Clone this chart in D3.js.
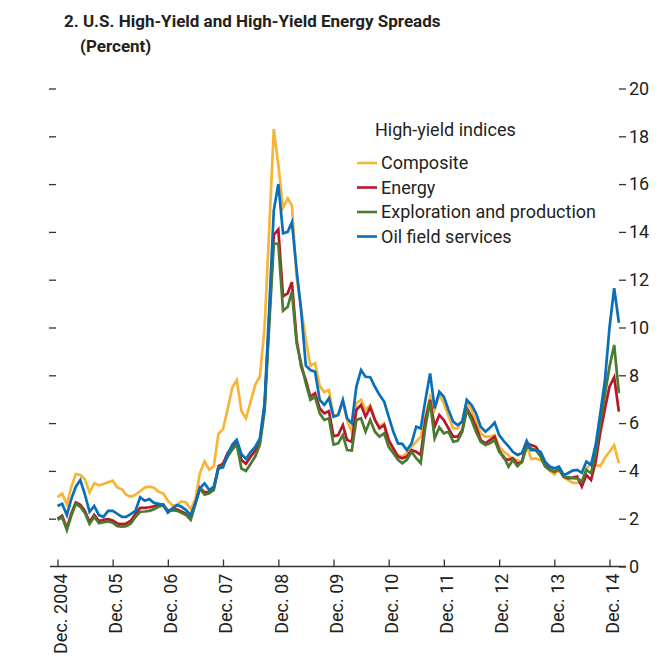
<!DOCTYPE html>
<html>
<head>
<meta charset="utf-8">
<script src="https://cdn.jsdelivr.net/npm/d3@7"></script>
<style>
  body { margin: 0; background: #fff; }
  text { font-family: "Liberation Sans Narrow", "Arial Narrow", "Roboto", sans-serif; fill: #231f20; }
</style>
</head>
<body>
<svg id="chart" width="667" height="656"></svg>
<script>
// monthly, Dec. 2004 .. Feb. 2015
var startMonth = new Date(2004, 11, 1);

var composite = [2.9,3.05,2.6,3.3,3.87,3.83,3.65,3.1,3.48,3.4,3.45,3.52,3.59,3.3,3.23,3.0,2.92,3.0,3.15,3.3,
  3.34,3.3,3.13,3.06,2.75,2.55,2.58,2.72,2.68,2.4,2.8,3.9,4.4,4.05,4.2,5.55,5.75,6.6,7.5,7.8,
  6.5,6.2,6.9,7.6,7.95,10.0,14.0,18.3,16.8,15.0,15.4,15.1,12.1,10.8,9.5,8.4,8.5,7.55,7.3,7.38,
  6.3,6.34,6.9,6.13,5.64,6.83,6.97,6.55,6.76,6.13,5.85,5.99,5.3,4.8,4.67,4.6,4.74,5.01,5.22,5.43,
  6.27,7.1,6.55,7.18,6.83,6.27,5.78,5.78,6.13,6.9,6.55,6.06,5.57,5.43,5.43,5.5,5.0,4.8,4.65,4.5,
  4.45,4.35,5.1,4.5,4.52,4.45,4.25,4.0,3.85,4.04,3.72,3.63,3.5,3.5,3.55,4.1,4.3,4.25,4.2,4.55,
  4.8,5.08,4.32];

var energy = [2.0,2.12,1.6,2.2,2.68,2.58,2.32,1.86,2.16,1.9,1.95,1.98,1.92,1.8,1.77,1.8,1.92,2.2,2.45,2.45,
  2.48,2.52,2.58,2.6,2.33,2.4,2.38,2.3,2.2,2.0,2.65,3.3,3.1,3.12,3.26,4.2,4.3,4.75,5.0,5.2,
  4.45,4.3,4.6,4.85,5.2,6.7,10.3,13.87,14.1,11.3,11.43,11.9,9.48,8.36,7.8,7.1,7.25,6.62,6.41,6.5,
  5.45,5.5,5.92,5.29,5.22,6.55,6.76,6.27,6.66,6.13,5.78,5.92,5.29,4.94,4.6,4.53,4.6,4.87,4.8,4.67,
  6.13,6.97,5.85,6.34,6.13,5.78,5.43,5.43,5.71,6.62,6.27,5.85,5.29,5.15,5.29,5.43,4.87,4.53,4.46,4.53,
  4.29,4.39,5.15,5.08,5.01,4.7,4.25,4.07,3.97,4.07,3.76,3.69,3.72,3.76,3.34,3.83,3.62,4.4,5.6,6.6,
  7.52,7.92,6.48];

var exploration = [1.95,2.06,1.53,2.1,2.62,2.5,2.23,1.78,2.08,1.81,1.85,1.88,1.83,1.69,1.67,1.69,1.8,2.08,2.29,2.3,
  2.33,2.4,2.5,2.55,2.3,2.36,2.33,2.25,2.15,1.95,2.6,3.27,3.0,3.06,3.2,4.15,4.2,4.6,4.9,5.1,
  4.1,4.0,4.3,4.6,5.1,6.5,10.0,13.52,13.5,10.7,10.87,11.5,9.34,8.5,7.66,6.97,7.1,6.41,6.13,6.2,
  5.1,5.15,5.5,4.87,4.85,6.13,6.2,5.64,6.13,5.64,5.43,5.57,5.01,4.74,4.46,4.32,4.46,4.8,4.53,4.32,
  5.85,6.9,5.36,5.82,5.57,5.64,5.22,5.26,5.64,6.55,6.13,5.64,5.22,5.08,5.15,5.29,4.8,4.6,4.18,4.46,
  4.2,4.39,4.99,4.94,4.87,4.6,4.18,4.04,3.97,4.11,3.76,3.73,3.7,3.69,3.55,4.04,3.9,4.8,6.0,7.2,
  8.36,9.27,7.25];

var oilField = [2.53,2.62,2.15,2.8,3.34,3.62,3.0,2.29,2.53,2.15,2.08,2.33,2.33,2.2,2.08,2.08,2.2,2.33,2.9,2.75,
  2.82,2.66,2.62,2.57,2.25,2.43,2.57,2.5,2.36,2.15,2.65,3.27,3.48,3.2,3.34,4.1,4.15,4.7,5.1,5.3,
  4.7,4.5,4.8,5.0,5.36,6.83,10.7,14.9,16.0,13.94,14.0,14.4,12.4,10.7,8.4,8.22,8.15,6.97,6.76,7.04,
  6.27,6.34,6.97,6.2,5.99,7.52,8.22,7.94,7.92,7.52,7.18,6.9,6.27,5.64,5.15,5.13,4.87,5.15,5.85,5.78,
  6.97,8.08,6.62,7.31,7.1,6.55,6.06,5.92,6.06,6.97,6.76,6.41,5.85,5.64,5.8,6.02,5.5,5.25,5.03,4.8,
  4.67,4.74,5.26,4.87,4.87,4.8,4.39,4.18,4.11,4.18,3.83,3.9,4.01,4.04,3.92,4.39,4.25,5.1,6.4,7.8,
  10.0,11.65,10.2];

var seriesNames = ["Composite", "Energy", "Exploration and production", "Oil field services"];
var seriesColors = ["#f7b538", "#b8172b", "#4a7b2f", "#0a6fba"];
var seriesValues = [composite, energy, exploration, oilField];

var yTicks = [0, 2, 4, 6, 8, 10, 12, 14, 16, 18, 20];
var xTickYears = [2004, 2005, 2006, 2007, 2008, 2009, 2010, 2011, 2012, 2013, 2014];
var xTickLabels = ["Dec. 2004", "Dec. 05", "Dec. 06", "Dec. 07", "Dec. 08", "Dec. 09",
                   "Dec. 10", "Dec. 11", "Dec. 12", "Dec. 13", "Dec. 14"];

var svg = d3.select("#chart");

var x = d3.scaleTime()
    .domain([new Date(2004, 11, 1), new Date(2014, 11, 1)])
    .range([57.5, 609.5]);
var y = d3.scaleLinear().domain([0, 20]).range([566.5, 88.5]);

// title
svg.append("text").attr("x", 64).attr("y", 27)
    .style("font-size", "17px").style("font-weight", "bold")
    .text("2. U.S. High-Yield and High-Yield Energy Spreads");
svg.append("text").attr("x", 80).attr("y", 52)
    .style("font-size", "17px").style("font-weight", "bold")
    .text("(Percent)");

// right axis with labels
var right = svg.append("g")
    .attr("transform", "translate(619,0)")
    .call(d3.axisRight(y).tickValues(yTicks).tickSize(7).tickPadding(3).tickFormat(d3.format("d")));
right.select(".domain").remove();
right.selectAll("line").attr("stroke", "#333").attr("stroke-width", 1.3);
right.selectAll("text").style("font-size", "18px")
    .style("font-family", '"Liberation Sans Narrow", "Arial Narrow", "Roboto", sans-serif')
    .attr("fill", "#231f20");

// left ticks, no labels
var left = svg.append("g")
    .attr("transform", "translate(56,0)")
    .call(d3.axisLeft(y).tickValues(yTicks.slice(1)).tickSize(7).tickFormat(""));
left.select(".domain").remove();
left.selectAll("line").attr("stroke", "#333").attr("stroke-width", 1.3);

// bottom axis line and ticks
var tickDates = xTickYears.map(function(yr) { return new Date(yr, 11, 1); });
var bottom = svg.append("g")
    .attr("transform", "translate(0," + y(0) + ")")
    .call(d3.axisBottom(x).tickValues(tickDates).tickSize(-7).tickFormat(""));
bottom.select(".domain").remove();
bottom.selectAll("line").attr("stroke", "#333").attr("stroke-width", 1.3);
svg.append("line")
    .attr("x1", 50).attr("x2", 626)
    .attr("y1", y(0)).attr("y2", y(0))
    .attr("stroke", "#333").attr("stroke-width", 1.3);

// rotated x labels
svg.append("g").selectAll("text")
    .data(xTickLabels)
    .enter().append("text")
    .attr("transform", function(d, i) {
        return "translate(" + (x(tickDates[i]) + 3) + "," + (y(0) + 7) + ") rotate(-90)";
    })
    .attr("dy", "0.35em")
    .attr("text-anchor", "end")
    .style("font-size", "18px")
    .text(function(d) { return d; });

// series lines
var line = d3.line()
    .x(function(d, i) { return x(d3.timeMonth.offset(startMonth, i)); })
    .y(function(d) { return y(d); });

svg.append("g").selectAll("path")
    .data(seriesValues)
    .enter().append("path")
    .attr("d", line)
    .attr("fill", "none")
    .attr("stroke", function(d, i) { return seriesColors[i]; })
    .attr("stroke-width", 2.7)
    .attr("stroke-linejoin", "miter");

// legend
var legend = svg.append("g");
legend.append("text").attr("x", 375).attr("y", 136)
    .style("font-size", "18px").text("High-yield indices");
for (var i = 0; i < seriesNames.length; i++) {
    var ly = 163 + i * 24.5;
    legend.append("line")
        .attr("x1", 357).attr("x2", 377)
        .attr("y1", ly).attr("y2", ly)
        .attr("stroke", seriesColors[i]).attr("stroke-width", 2.6);
    legend.append("text")
        .attr("x", 381).attr("y", ly).attr("dy", "0.35em")
        .style("font-size", "18px")
        .text(seriesNames[i]);
}
</script>
</body>
</html>
